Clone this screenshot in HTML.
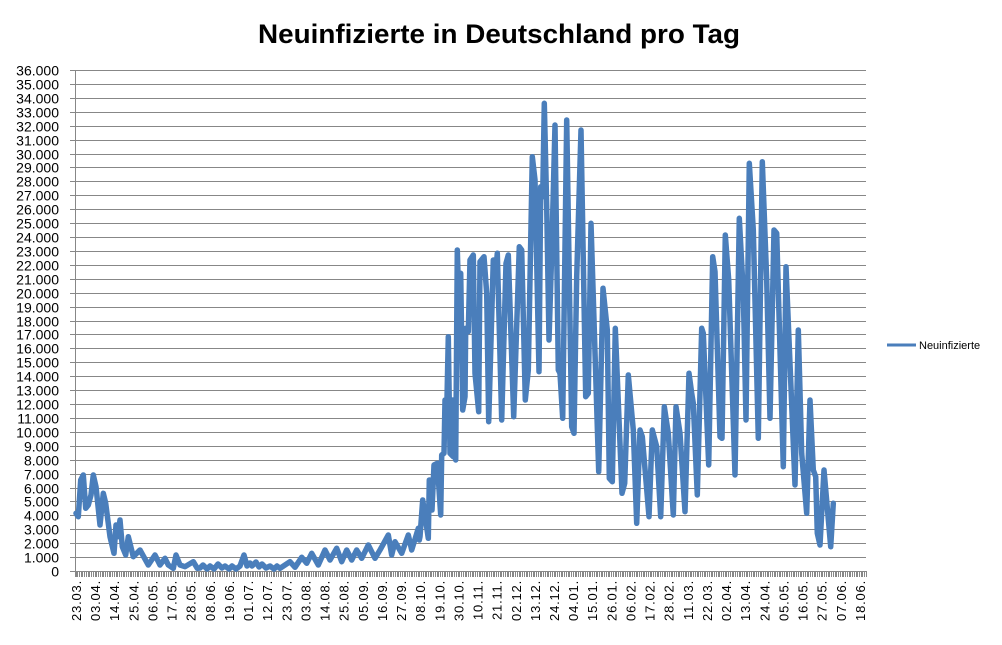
<!DOCTYPE html>
<html><head><meta charset="utf-8"><style>
html,body{margin:0;padding:0;background:#fff;}
svg{display:block;font-family:"Liberation Sans",sans-serif;}
</style></head><body>
<svg id="s" width="1002" height="645" viewBox="0 0 1002 645" xmlns="http://www.w3.org/2000/svg">
<text x="499" y="43" font-size="27" font-weight="bold" text-anchor="middle" textLength="482" lengthAdjust="spacingAndGlyphs">Neuinfizierte in Deutschland pro Tag</text>
<g id="grid" stroke="#878787" stroke-width="1"></g>
<g id="ylab" font-size="14" text-anchor="end" fill="#000"></g>
<g id="xlab" font-size="13" fill="#000"></g>
<polyline id="ln" fill="none" stroke="#4a7ebb" stroke-width="5.5" stroke-linejoin="round" stroke-linecap="round"/>
<line x1="887" y1="345" x2="916" y2="345" stroke="#4a7ebb" stroke-width="3"/>
<text x="919" y="349" font-size="11">Neuinfizierte</text>
</svg>
<script>
var NS="http://www.w3.org/2000/svg";
function el(p,t,a,txt){var e=document.createElementNS(NS,t);for(var k in a)e.setAttribute(k,a[k]);if(txt!=null)e.textContent=txt;p.appendChild(e);return e;}
var g=document.getElementById('grid'),yl=document.getElementById('ylab'),xl=document.getElementById('xlab');
for(var i=0;i<=36;i++){var y=571-i*(501/36);y=Math.round(y)+0.5;
 el(g,'line',{x1:70,y1:y,x2:866,y2:y});
 var s=i==0?'0':(i+'.000');el(yl,'text',{x:59,y:y+5},s);}
el(g,'line',{x1:75.5,y1:70,x2:75.5,y2:577});
for(var x=75.5;x<=866;x+=1.745){el(g,'line',{x1:Math.round(x)+0.5,y1:571,x2:Math.round(x)+0.5,y2:577});}
var labs="23.03. 03.04. 14.04. 25.04. 06.05. 17.05. 28.05. 08.06. 19.06. 01.07. 12.07. 23.07. 03.08. 14.08. 25.08. 05.09. 16.09. 27.09. 08.10. 19.10. 30.10. 10.11. 21.11. 02.12. 13.12. 24.12. 04.01. 15.01. 26.01. 06.02. 17.02. 28.02. 11.03. 22.03. 02.04. 13.04. 24.04. 05.05. 16.05. 27.05. 07.06. 18.06.".split(' ');
labs.forEach(function(l,i){var cx=76.5+i*19.12+4.5;el(xl,'text',{x:0,y:0,transform:'translate('+cx+',580) rotate(-90)','text-anchor':'end','letter-spacing':'0.8'},l);});
var pts=[];
var z3=[[108,220],[115,230],[122,120],[130,105],[137,205],[145,195],[153,165],[160,105],[168,140],[180,255],[190,160],[197,190],[210,290],[222,340],[228,255],[233,290],[240,240],[247,320],[257,345],[265,290],[280,350],[300,330],[325,375],[345,345],[360,375],[375,355],[385,375],[400,385],[408,345],[420,375],[435,380],[460,365],[472,385]];
z3.forEach(function(p){pts.push([40+p[0]/3,440+p[1]/3]);});
var mid=[[200,568],[203,565],[207,569],[210,566],[214,569],[218,564],[222,568],[225,566],[229,569],[232,566],[236,569],[240,566],[244,555],[247,566],[250,563],[252,566],[256,562],[259,567],[262,564],[266,568],[270,566],[274,569],[277,566]];
mid.forEach(function(p){pts.push(p);});
var z4=[[0,265],[30,245],[45,262],[65,232],[80,250],[95,220],[115,255],[135,210],[150,240],[170,205],[185,245],[200,210],[215,240],[230,210],[245,235],[265,195],[285,235],[300,210],[325,165],[335,225],[345,185],[365,220],[385,165],[395,210],[415,145],[418,180]];
z4.forEach(function(p){pts.push([280+p[0]/3,480+p[1]/3]);});
var z2=[[0,1370],[8,1260],[25,1375],[28,1200],[36,1290],[42,1155],[52,1150],[62,1305],[65,1125],[72,1120],[75,960],[80,1000],[85,770],[90,1120],[100,1130],[98,960],[107,1140],[112,510],[118,720],[122,580],[128,990],[135,950],[137,745],[145,755],[150,540],[160,525],[165,880],[176,995],[180,545],[192,530],[200,640],[206,1025],[220,540],[225,600],[232,520],[245,1020],[258,550],[265,525],[281,1010],[298,500],[305,510],[316,960],[325,870],[337,230],[345,300],[357,875],[362,320],[368,350],[373,70],[380,380],[387,780],[395,520],[405,135],[415,870],[420,880],[428,1015],[440,120],[455,1040],[462,1060],[470,590],[483,150],[497,950],[505,940],[513,430],[536,1175],[549,625],[562,750],[568,1195],[577,1205],[586,745],[606,1240],[614,1210],[625,885],[640,1050],[650,1330],[660,1050],[667,1070],[687,1310],[697,1050],[710,1100],[722,1310],[733,980],[745,1060],[760,1305],[768,980],[780,1060],[795,1295],[807,880],[815,940],[820,970],[832,1245],[845,745],[850,760],[866,1155],[878,530],[885,575],[900,1070],[906,1075],[916,465],[926,600],[945,1185],[958,415],[970,640],[978,1020],[988,250],[1000,450],[1015,1075],[1027,245],[1040,600],[1050,1015],[1062,450],[1070,460],[1090,1160],[1098,560],[1125,1215],[1135,750],[1145,1120],[1160,1300],[1170,960],[1180,1170],[1187,1190],[1192,1360],[1200,1395],[1212,1170],[1232,1400],[1240,1270]];
z2.forEach(function(p){pts.push([420+p[0]/3,80+p[1]/3]);});
document.getElementById('ln').setAttribute('points',pts.map(function(p){return p[0].toFixed(1)+','+p[1].toFixed(1);}).join(' '));
</script>
</body></html>
